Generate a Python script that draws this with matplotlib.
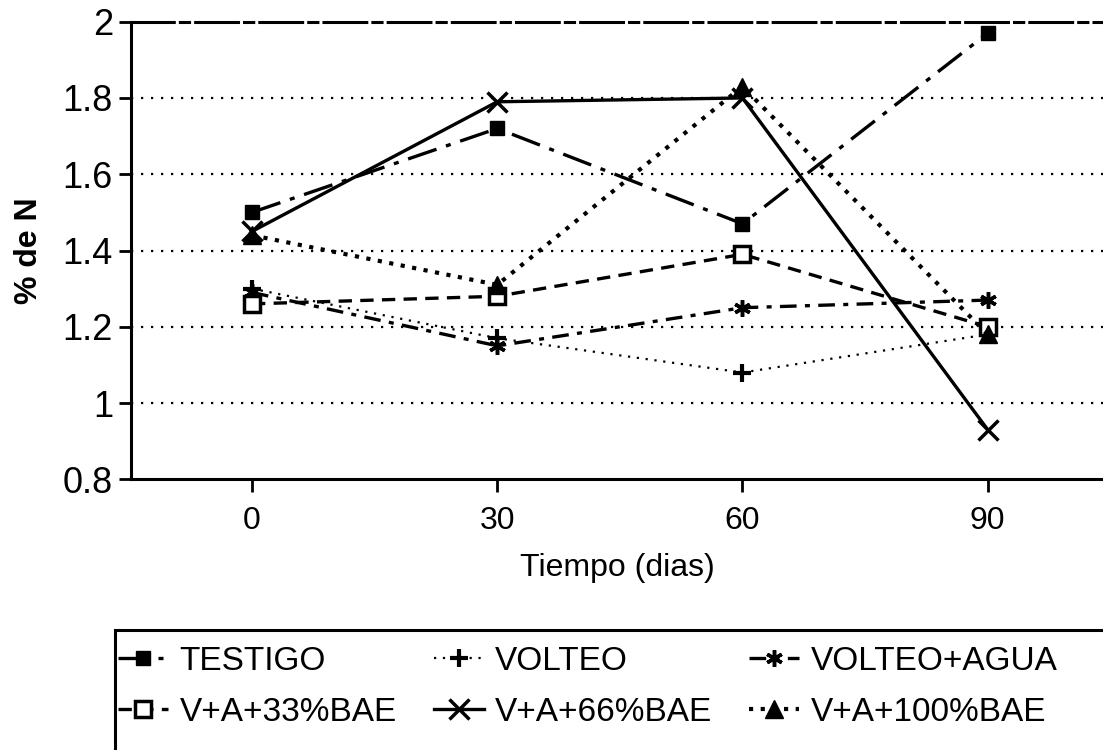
import matplotlib
matplotlib.use("Agg")
import matplotlib.pyplot as plt
from matplotlib.patches import Rectangle

plt.rcParams["font.family"] = ["Liberation Sans", "DejaVu Sans"]

# data
dias = [0, 30, 60, 90]
testigo = [1.50, 1.72, 1.47, 1.97]
volteo = [1.30, 1.17, 1.08, 1.18]
volteo_agua = [1.29, 1.15, 1.25, 1.27]
bae33 = [1.26, 1.28, 1.39, 1.20]
bae66 = [1.45, 1.79, 1.80, 0.93]
bae100 = [1.44, 1.31, 1.83, 1.18]

y_ticks = [0.8, 1.0, 1.2, 1.4, 1.6, 1.8, 2.0]
y_tick_labels = ["0.8", "1", "1.2", "1.4", "1.6", "1.8", "2"]

series = [
    ("TESTIGO", testigo, dict(ls=(0, (9, 3, 1.5, 3)), lw=2.4, marker="s", ms=10,
                              mfc="black")),
    ("VOLTEO", volteo, dict(ls=(0, (1, 3)), lw=1.6, marker="+", ms=13, mew=3)),
    ("VOLTEO+AGUA", volteo_agua, dict(ls=(0, (5, 2.5, 1.5, 2.5)), lw=2.4,
                                      marker=(6, 2, 0), ms=12, mew=2.5)),
    ("V+A+33%BAE", bae33, dict(ls=(0, (4, 2.5)), lw=2.4, marker="s", ms=11,
                               mfc="white", mew=2.5)),
    ("V+A+66%BAE", bae66, dict(ls="-", lw=2.4, marker="x", ms=14, mew=2.5)),
    ("V+A+100%BAE", bae100, dict(ls=(0, (1, 1.8)), lw=3, marker="^", ms=13,
                                 mfc="black")),
]

fig = plt.figure(figsize=(11.03, 7.5), dpi=100)
ax = fig.add_axes([131 / 1103, 1 - 479.3 / 750, 1 - 131 / 1103, (479.3 - 21.7) / 750])

for y in y_ticks[1:-1]:
    ax.axhline(y, color="black", lw=1.6, ls=(0, (1, 3.5)), zorder=1)

handles = []
for label, vals, style in series:
    line, = ax.plot(dias, vals, color="black", mec="black", label=label,
                    zorder=3, clip_on=False, **style)
    handles.append(line)

ax.set_xlim(-14.8, 104.1)
ax.set_ylim(0.8, 2.0)
ax.set_xticks(dias)
ax.set_xticklabels([str(d) for d in dias], fontsize=23)
ax.set_yticks(y_ticks)
ax.set_yticklabels(y_tick_labels, fontsize=26)
ax.tick_params(axis="both", direction="out", length=9, width=2, color="black")
ax.tick_params(axis="x", pad=10)
ax.tick_params(axis="y", pad=4)

ax.spines["right"].set_visible(False)
ax.spines["top"].set_linestyle((0, (14, 2, 3, 2)))
for side in ("left", "bottom", "top"):
    ax.spines[side].set_linewidth(2.2)
    ax.spines[side].set_color("black")

ax.set_xlabel("Tiempo (dias)", fontsize=23)
ax.xaxis.set_label_coords(0.5, (479.3 - 553) / 457.6)
ax.set_ylabel("% de N", fontsize=23, fontweight="bold")
ax.yaxis.set_label_coords((44 - 131) / 969, 0.5)

# legend box runs past the bottom and right edge of the scan
fig.add_artist(Rectangle((115 / 1103, -0.2), 1.2, 0.2 + (1 - 630 / 750),
                         transform=fig.transFigure, fill=False,
                         edgecolor="black", lw=2.2))
# legend fills column by column, so interleave to get the row order
order = [0, 3, 1, 4, 2, 5]
fig.legend([handles[i] for i in order], [series[i][0] for i in order],
           loc="upper left", bbox_to_anchor=(118 / 1103, 1 - 646 / 750),
           ncol=3, frameon=False, fontsize=24, handlelength=1.5,
           handletextpad=0.35, columnspacing=1.1, labelspacing=0.6,
           borderaxespad=0, borderpad=0)

fig.savefig("out.png", dpi=100)
